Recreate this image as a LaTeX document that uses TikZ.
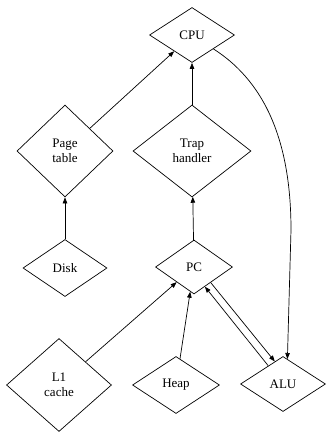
\documentclass[tikz,border=0pt]{standalone}
\usepackage{fontspec}
\setmainfont{Liberation Serif}
\usetikzlibrary{shapes.geometric,arrows.meta}
\begin{document}
\begin{tikzpicture}[x=1pt,y=-1pt,
  dnode/.style={draw,shape=diamond,inner sep=0pt,line width=0.7pt,align=center,
    font=\fontsize{13}{15}\selectfont},
  conn/.style={line width=0.7pt,-{Triangle[length=6pt,width=4.5pt]}}]
\useasboundingbox (0,0) rectangle (325,432);
\node[dnode,minimum width=85pt,minimum height=55pt] (cpu) at (192,35) {CPU};
\node[dnode,minimum width=96pt,minimum height=92pt] (pt) at (65,151) {Page\\table};
\node[dnode,minimum width=118pt,minimum height=92pt] (trap) at (192,151) {Trap\\handler};
\node[dnode,minimum width=84pt,minimum height=57pt] (disk) at (65,268) {Disk};
\node[dnode,minimum width=77pt,minimum height=54pt] (pc) at (194,267) {PC};
\node[dnode,minimum width=105pt,minimum height=93pt] (l1) at (59,385) {L1\\cache};
\node[dnode,minimum width=87pt,minimum height=57pt] (heap) at (176,385) {Heap};
\node[dnode,minimum width=85pt,minimum height=55pt] (alu) at (283,384) {ALU};
\draw[conn] (pt) -- (cpu);
\draw[conn] (trap) -- (cpu);
\draw[conn] (disk) -- (pt);
\draw[conn] (pc) -- (trap);
\draw[conn] (l1) -- (pc);
\draw[conn] (heap) -- (pc);
\draw[conn] (pc.-43) -- (alu.110);
\draw[conn] (alu.129) -- (pc.-61);
\draw[conn] (cpu.-33) .. controls (270,85) and (291,150) .. (291,230) -- (alu.80);
\end{tikzpicture}
\end{document}
